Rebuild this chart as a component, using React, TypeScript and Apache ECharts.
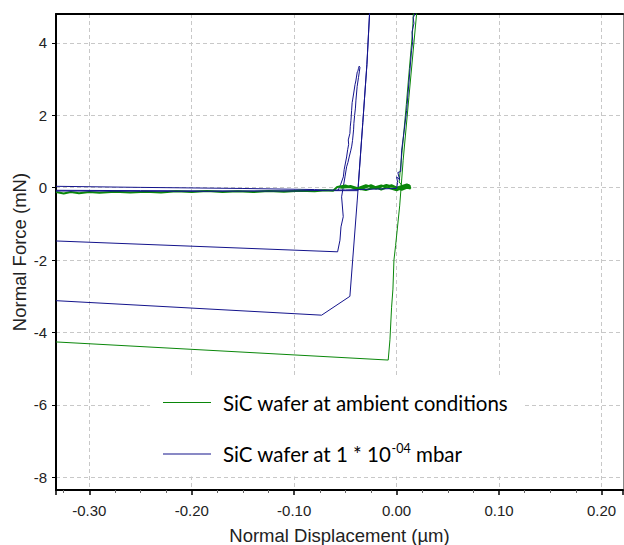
import React, { useEffect, useRef } from 'react';
import * as echarts from 'echarts';

const X_MIN = -0.3325;
const X_MAX = 0.221;
const Y_MIN = -8.35;
const Y_MAX = 4.8;

const GREEN_NAME = 'SiC wafer at ambient conditions';
const BLUE_NAME = 'SiC wafer at 1 * 10-04 mbar';

const GREEN = '#0a870a';
const BLUE = '#14148c';

// Blue curve A: approach, jagged loading to ~3.3 mN, unloading, retraction
const blueA: number[][] = [
  [-0.3325, 0.04], [-0.25, 0.01], [-0.15, -0.02], [-0.08, -0.05], [-0.0585, -0.07],
  [-0.057, -0.066], [-0.0545, 0.1], [-0.052, 0.3], [-0.0512, 0.5], [-0.0488, 0.85],
  [-0.0478, 1.05], [-0.0468, 1.2], [-0.0472, 1.32], [-0.0456, 1.5], [-0.0452, 1.7],
  [-0.0446, 1.85], [-0.0439, 2.14], [-0.0434, 2.35], [-0.0428, 2.45], [-0.0414, 2.7],
  [-0.0406, 2.85], [-0.0398, 2.95], [-0.0384, 3.2], [-0.0378, 3.22], [-0.0372, 3.3],
  [-0.0365, 3.36], [-0.0358, 3.32], [-0.0364, 3.2], [-0.0372, 3.05], [-0.0385, 2.8],
  [-0.0397, 2.42], [-0.0402, 2.2], [-0.0410, 2.0], [-0.0417, 1.78], [-0.0420, 1.6],
  [-0.0430, 1.31], [-0.0438, 1.15], [-0.0448, 1.02], [-0.0463, 0.85], [-0.0475, 0.7],
  [-0.0488, 0.58], [-0.0504, 0.3], [-0.0537, -0.25], [-0.0521, -0.8], [-0.0543, -1.08],
  [-0.0553, -1.45], [-0.0576, -1.77], [-0.3325, -1.47],
];

// Blue curve B: approach, steep loading beyond the top, unloading and retraction
const blueB: number[][] = [
  [-0.3325, -0.07], [-0.25, -0.08], [-0.15, -0.09], [-0.10, -0.085], [-0.06, -0.08],
  [-0.0378, -0.08], [-0.033, 1.8], [-0.029, 3.4], [-0.0255, 5.3],
  [-0.029, 3.4], [-0.033, 1.8], [-0.0384, -0.34], [-0.0456, -3.0],
  [-0.0732, -3.52], [-0.3325, -3.12],
];

// Blue curve C: approach and loading near zero displacement
const blueC: number[][] = [
  [-0.3325, -0.09], [-0.20, -0.1], [-0.10, -0.09], [-0.05, -0.06], [0.0, -0.02],
  [0.001, 0.15], [0.0, 0.3], [0.003, 0.22], [0.0012, 0.42], [0.004, 0.45],
  [0.0049, 1.04], [0.0075, 1.6], [0.0098, 2.14], [0.012, 2.9], [0.0146, 3.8],
  [0.0158, 4.05], [0.015, 4.3], [0.0169, 4.54], [0.0162, 4.7], [0.0188, 4.85], [0.0195, 5.3],
];

// Green curve: noisy approach band around zero force
const greenApproach: number[][] = [
  [-0.3325, -0.12], [-0.325, -0.16], [-0.318, -0.12], [-0.31, -0.15], [-0.30, -0.12],
  [-0.29, -0.14], [-0.275, -0.11], [-0.26, -0.13], [-0.245, -0.11], [-0.23, -0.13],
  [-0.215, -0.1], [-0.20, -0.12], [-0.185, -0.09], [-0.17, -0.12], [-0.155, -0.1],
  [-0.14, -0.12], [-0.125, -0.09], [-0.11, -0.11], [-0.095, -0.08], [-0.08, -0.1],
  [-0.07, -0.07], [-0.062, -0.08], [-0.058, 0.02], [-0.05, 0.06], [-0.04, -0.03],
  [-0.03, 0.07], [-0.02, -0.02], [-0.01, 0.08], [0.0, 0.0], [0.01, 0.09],
  [0.0135, 0.04], [0.005, -0.06], [-0.005, 0.07], [-0.015, -0.05], [-0.025, 0.07],
  [-0.035, -0.04], [-0.045, 0.05], [-0.055, 0.0], [-0.045, 0.02], [-0.03, -0.06],
  [-0.015, 0.06], [0.0, -0.07], [0.012, 0.08], [0.0135, -0.02], [0.006, 0.03],
];

// Green curve: loading, unloading and retraction
const greenLoad: number[][] = [
  [0.006, 0.03], [0.0025, 0.16], [0.006, 1.2], [0.0095, 2.3], [0.0125, 3.3],
  [0.0155, 4.3], [0.0172, 5.3], [0.0205, 5.3], [0.0195, 4.8], [0.012, 2.5],
  [0.0064, 0.76], [0.003, -0.5], [-0.001, -1.6], [-0.0026, -2.0], [-0.0036, -2.8],
  [-0.0049, -3.3], [-0.0065, -4.2], [-0.0082, -4.76], [-0.3325, -4.26],
];

const lineSeries = (name: string, data: number[][], color: string, width: number) => ({
  name,
  type: 'line',
  data,
  symbol: 'none',
  showSymbol: false,
  itemStyle: { color },
  lineStyle: { color, width },
  clip: true,
  silent: true,
  xAxisIndex: 0,
  yAxisIndex: 0,
});

const AXIS_FONT = '"Liberation Sans", Arial, sans-serif';
const LEGEND_FONT = 'Lato, "Open Sans", sans-serif';

export default function App() {
  const ref = useRef<HTMLDivElement>(null);
  useEffect(() => {
    const chart = echarts.init(ref.current!, null, { renderer: 'svg' });
    const gridLine = { show: true, lineStyle: { color: '#c8c8c8', width: 1, type: [4, 3] } };
    chart.setOption({
      animation: false,
      backgroundColor: '#fff',
      grid: { left: 56, top: 14, right: 1, bottom: 55, containLabel: false, outerBoundsMode: 'none' },
      xAxis: [
        {
          type: 'value',
          min: X_MIN,
          max: X_MAX,
          splitNumber: 5,
          name: 'Normal Displacement (µm)',
          nameLocation: 'middle',
          nameGap: 36,
          nameTextStyle: { fontFamily: AXIS_FONT, fontSize: 18.5, color: '#222' },
          axisLine: { show: true, onZero: false, lineStyle: { color: '#000', width: 2 } },
          axisTick: { show: true, length: 5, lineStyle: { color: '#000', width: 1.5 } },
          minorTick: { show: true, splitNumber: 4, length: 3, lineStyle: { color: '#666' } },
          axisLabel: {
            fontFamily: AXIS_FONT,
            fontSize: 15,
            color: '#222',
            margin: 13,
            showMinLabel: false,
            showMaxLabel: false,
            formatter: (v: number) => v.toFixed(2),
          },
          splitLine: gridLine,
        },
        {
          type: 'value',
          position: 'top',
          min: X_MIN,
          max: X_MAX,
          axisLine: { show: true, onZero: false, lineStyle: { color: '#000', width: 2 } },
          axisTick: { show: false },
          axisLabel: { show: false },
          splitLine: { show: false },
        },
      ],
      yAxis: [
        {
          type: 'value',
          min: Y_MIN,
          max: Y_MAX,
          splitNumber: 6,
          name: 'Normal Force (mN)',
          nameLocation: 'middle',
          nameGap: 27,
          nameMoveOverlap: false,
          nameTextStyle: { fontFamily: AXIS_FONT, fontSize: 18.5, color: '#222' },
          axisLine: { show: true, onZero: false, lineStyle: { color: '#000', width: 2 } },
          axisTick: { show: true, length: 4, lineStyle: { color: '#000', width: 1 } },
          axisLabel: {
            fontFamily: AXIS_FONT,
            fontSize: 15,
            color: '#222',
            margin: 9,
            showMinLabel: false,
            showMaxLabel: false,
            formatter: (v: number) => String(Math.round(v)),
          },
          splitLine: gridLine,
        },
        {
          type: 'value',
          position: 'right',
          min: Y_MIN,
          max: Y_MAX,
          axisLine: { show: true, onZero: false, lineStyle: { color: '#888', width: 1 } },
          axisTick: { show: false },
          axisLabel: { show: false },
          splitLine: { show: false },
        },
      ],
      legend: {
        data: [GREEN_NAME, BLUE_NAME],
        orient: 'vertical',
        left: 150,
        top: 378,
        padding: [14, 14, 12, 13],
        itemGap: 29,
        itemWidth: 48,
        itemHeight: 1.2,
        icon: 'rect',
        backgroundColor: '#fff',
        selectedMode: false,
        formatter: (name: string) =>
          name === BLUE_NAME
            ? '{a|SiC wafer at 1 * 10}{s|-04}{t| mbar}'
            : '{a|' + name + '}',
        textStyle: {
          rich: {
            a: { fontFamily: LEGEND_FONT, fontSize: 20.5, color: '#000', lineHeight: 24, padding: [0, 0, 0, 7] },
            t: { fontFamily: LEGEND_FONT, fontSize: 20.5, color: '#000', lineHeight: 24 },
            s: { fontFamily: LEGEND_FONT, fontSize: 12.5, color: '#000', lineHeight: 12, verticalAlign: 'top' },
          },
        },
      },
      series: [
        lineSeries(BLUE_NAME, blueA, BLUE, 1),
        lineSeries(BLUE_NAME, blueB, BLUE, 1),
        lineSeries(GREEN_NAME, greenApproach, GREEN, 2),
        lineSeries(GREEN_NAME, greenLoad, GREEN, 1),
        lineSeries(BLUE_NAME, blueC, BLUE, 1),
      ],
    });
    return () => chart.dispose();
  }, []);
  return (
    <div
      ref={ref}
      style={{ position: 'fixed', left: 0, top: 0, width: 624, height: 545, background: '#fff' }}
    />
  );
}
